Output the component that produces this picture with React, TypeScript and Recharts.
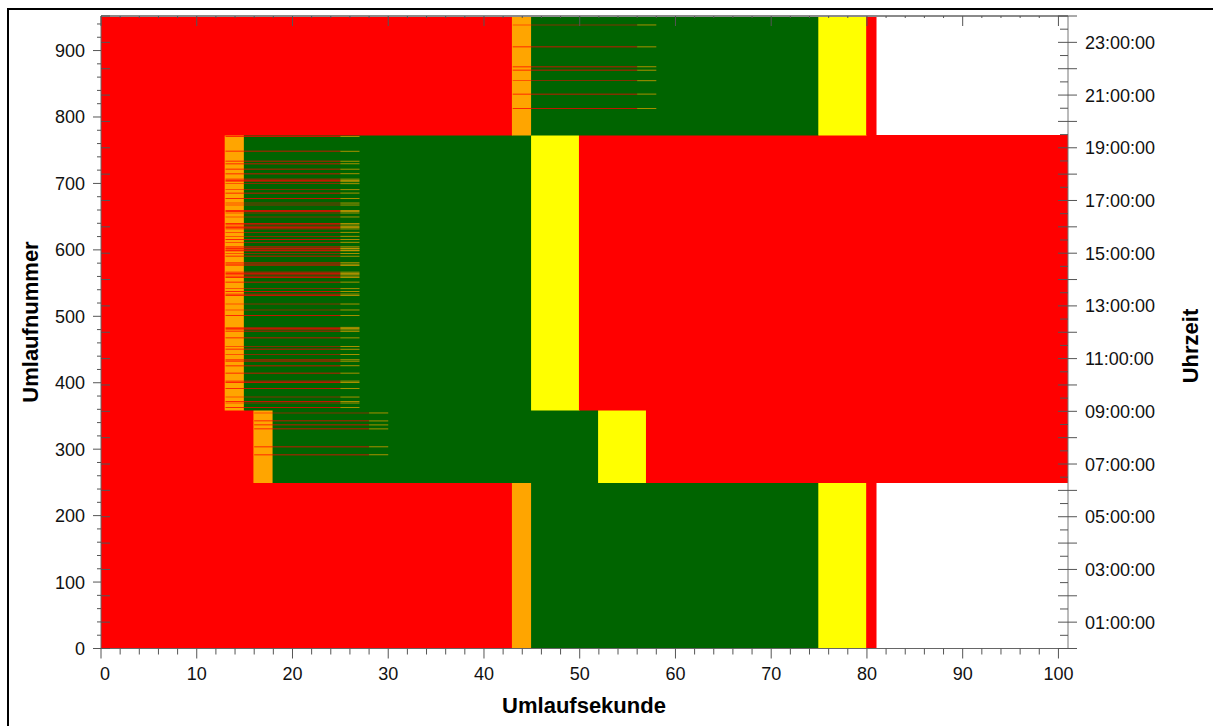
import { ComposedChart, ReferenceArea, ReferenceLine, XAxis, YAxis } from "recharts";

const W = 1213;
const H = 726;
const PLOT_LEFT = 101;
const PLOT_TOP = 16;
const FONT = "'Liberation Sans', Arial, sans-serif";
const TICK = "#555";

const range = (from: number, to: number, step: number) => {
  const out: number[] = [];
  for (let v = from; v <= to + 1e-9; v += step) out.push(Math.round(v * 100) / 100);
  return out;
};

// axes
const SECOND_MAX = 101;
const CYCLE_MAX = 952;
const secondLabels = [0, 10, 20, 30, 40, 50, 60, 70, 80, 90, 100];
const secondTicks = range(0, 100, 2);
const cycleLabels = [0, 100, 200, 300, 400, 500, 600, 700, 800, 900];
const cycleTicks = range(0, 940, 20);
const hourLabels = [1, 3, 5, 7, 9, 11, 13, 15, 17, 19, 21, 23];
const timeTicks = range(0, 24, 0.5);

// signal states per second of cycle: [from, to, state]
type Phase = [number, number, string];
const signalColor: Record<string, string> = {
  R: "#ff0000",
  RY: "#ffa500",
  G: "#006400",
  Y: "#ffff00",
};

const nightPhases: Phase[] = [[0, 43, "R"], [43, 45, "RY"], [45, 75, "G"], [75, 80, "Y"], [80, 81, "R"]];
const peakPhases: Phase[] = [[0, 16, "R"], [16, 18, "RY"], [18, 52, "G"], [52, 57, "Y"], [57, 101, "R"]];
const dayPhases: Phase[] = [[0, 13, "R"], [13, 15, "RY"], [15, 45, "G"], [45, 50, "Y"], [50, 101, "R"]];

const programCycles = [[0, 250], [250, 359], [359, 773], [773, 952]];
const programPhases = [nightPhases, peakPhases, dayPhases, nightPhases];

// single cycles with delayed green
const peakStripes = [291, 303, 330, 336, 342, 354];
const peakStripePhases: Phase[] = [[16, 28, "R"], [28, 30, "RY"]];

const dayStripes = [
  362, 369, 371, 378, 391, 400, 402, 414, 425, 432, 434, 442, 450, 454, 467, 477, 479, 481, 483,
  501, 509, 518, 531, 533, 537, 541, 551, 558, 560, 562, 564, 566, 576, 578, 580, 590, 594, 598,
  599, 601, 602, 604, 611, 615, 620, 626, 631, 633, 635, 637, 639, 649, 655, 657, 659, 667, 670,
  677, 685, 690, 699, 702, 704, 706, 714, 721, 729, 733, 748, 770,
];
const dayStripePhases: Phase[] = [[13, 25, "R"], [25, 27, "RY"]];

const eveningStripes = [812, 834, 854, 870, 875, 905, 938];
const eveningStripePhases: Phase[] = [[43, 56, "R"], [56, 58, "RY"]];

type Area = { x1: number; x2: number; y1: number; y2: number; fill: string };

// blocks slightly overlap the previously drawn one so no anti-aliasing seams show
const areas: Area[] = [];
programCycles.forEach(([c1, c2], i) => {
  programPhases[i].forEach(([s1, s2, st]) =>
    areas.push({
      x1: s1 > 0 ? s1 - 0.08 : s1,
      x2: s2,
      y1: c1 > 0 ? c1 - 0.75 : c1,
      y2: c2,
      fill: signalColor[st],
    })
  );
});
const addStripes = (cycles: number[], phases: Phase[]) =>
  cycles.forEach((c) =>
    phases.forEach(([s1, s2, st]) =>
      areas.push({ x1: s1, x2: s2, y1: c, y2: c + 1, fill: signalColor[st] })
    )
  );
addStripes(peakStripes, peakStripePhases);
addStripes(dayStripes, dayStripePhases);
addStripes(eveningStripes, eveningStripePhases);

// rows for the axes: phase boundaries of each program
const chartData = programCycles.flatMap(([c1], i) =>
  programPhases[i].map(([s1]) => ({ s: s1, c: c1 }))
);

function SecondTick(props: any) {
  const { x, y, payload } = props;
  const major = secondLabels.includes(payload.value);
  return (
    <g>
      <line x1={x} x2={x} y1={y} y2={y + (major ? 10 : 6)} stroke={TICK} />
      <line x1={x} x2={x} y1={PLOT_TOP} y2={PLOT_TOP + (major ? 10 : 2)} stroke={TICK} />
      {major && (
        <text x={payload.value === 0 ? x + 4 : x} y={y + 31.5} textAnchor="middle" fontSize={18} fill="#111" fontFamily={FONT}>
          {payload.value}
        </text>
      )}
    </g>
  );
}

function CycleTick(props: any) {
  const { x, y, payload } = props;
  const major = cycleLabels.includes(payload.value);
  return (
    <g>
      <line x1={x - (major ? 8 : 4)} x2={x} y1={y} y2={y} stroke={TICK} />
      {major && (
        <text x={x - 16} y={y + 6.5} textAnchor="end" fontSize={18} fill="#111" fontFamily={FONT}>
          {payload.value}
        </text>
      )}
    </g>
  );
}

function TimeTick(props: any) {
  const { x, y, payload } = props;
  const v = payload.value;
  const hour = Number.isInteger(v);
  return (
    <g>
      {hour ? (
        <>
          <line x1={x - 10} x2={x + 9} y1={y} y2={y} stroke={TICK} />
          <line x1={PLOT_LEFT} x2={PLOT_LEFT + 9} y1={y} y2={y} stroke={TICK} />
        </>
      ) : (
        <line x1={x - 8} x2={x} y1={y} y2={y} stroke={TICK} />
      )}
      {hourLabels.includes(v) && (
        <text x={x + 17} y={y + 6.5} fontSize={18} fill="#111" fontFamily={FONT}>
          {`${String(v).padStart(2, "0")}:00:00`}
        </text>
      )}
    </g>
  );
}

const titleStyle = { fontSize: 22, fontWeight: 700, fill: "#000", fontFamily: FONT };

export default function App() {
  return (
    <div style={{ position: "fixed", left: 0, top: 0, width: W, height: H, overflow: "hidden", background: "#fff" }}>
      <div
        style={{
          position: "absolute",
          left: 7,
          top: 8,
          width: 1300,
          height: 800,
          border: "2px solid #000",
        }}
      />
      <div style={{ position: "absolute", left: 0, top: 0 }}>
        <ComposedChart width={W} height={H} data={chartData} margin={{ top: 16, right: 45, bottom: 37.5, left: 41 }}>
          {areas.map((a, i) => (
            <ReferenceArea
              key={i}
              xAxisId="s"
              yAxisId="c"
              x1={a.x1}
              x2={a.x2}
              y1={a.y1}
              y2={a.y2}
              fill={a.fill}
              fillOpacity={1}
              stroke="none"
            />
          ))}
          <ReferenceLine xAxisId="s" yAxisId="c" y={CYCLE_MAX} stroke="#8a8a8a" strokeWidth={2} />
          <XAxis
            xAxisId="s"
            dataKey="s"
            type="number"
            domain={[0, SECOND_MAX]}
            allowDataOverflow
            ticks={secondTicks}
            interval={0}
            tickSize={0}
            tickMargin={0}
            tickLine={false}
            tick={SecondTick}
            height={40}
            stroke="#666"
            label={() => (
              <text x={584} y={713} textAnchor="middle" {...titleStyle}>
                Umlaufsekunde
              </text>
            )}
          />
          <YAxis
            yAxisId="c"
            dataKey="c"
            type="number"
            domain={[0, CYCLE_MAX]}
            allowDataOverflow
            ticks={cycleTicks}
            interval={0}
            tickSize={0}
            tickMargin={0}
            tickLine={false}
            tick={CycleTick}
            width={60}
            stroke="#666"
            label={() => (
              <text
                x={30}
                y={322}
                textAnchor="middle"
                dominantBaseline="central"
                transform="rotate(-90 30 322)"
                {...titleStyle}
              >
                Umlaufnummer
              </text>
            )}
          />
          <YAxis
            yAxisId="t"
            orientation="right"
            type="number"
            domain={[0, 24]}
            allowDataOverflow
            ticks={timeTicks}
            interval={0}
            tickSize={0}
            tickMargin={0}
            tickLine={false}
            tick={TimeTick}
            width={100}
            stroke="#777"
            label={() => (
              <text
                x={1190}
                y={346}
                textAnchor="middle"
                dominantBaseline="central"
                transform="rotate(-90 1190 346)"
                {...titleStyle}
              >
                Uhrzeit
              </text>
            )}
          />
        </ComposedChart>
      </div>
    </div>
  );
}
